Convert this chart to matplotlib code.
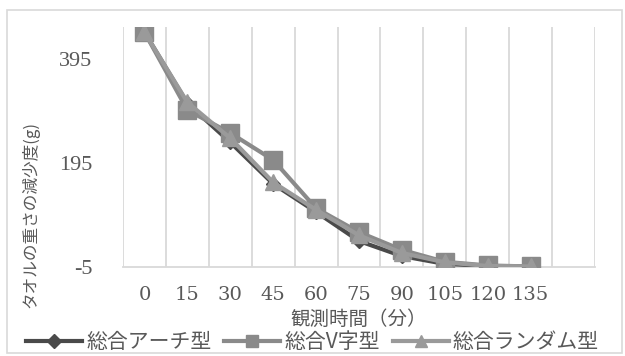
import matplotlib
matplotlib.use("Agg")
import matplotlib.pyplot as plt
from matplotlib.lines import Line2D
from matplotlib.patches import Rectangle

plt.rcParams['font.family'] = ['Noto Sans CJK JP', 'DejaVu Sans']
plt.rcParams['axes.unicode_minus'] = False

# 観測時間（分）
minutes = ['0', '15', '30', '45', '60', '75', '90', '105', '120', '135']
# タオルの重さの減少度 (g)
arch = [447, 310, 235, 155, 101, 45, 16, 1, -3, -4]
v_shape = [447, 297, 253, 201, 108, 62, 28, 5, -2, -4]
random_type = [447, 312, 243, 158, 105, 56, 22, 4, -3, -4]
series_names = ['総合アーチ型', '総合V字型', '総合ランダム型']

W, H = 625, 356
fig = plt.figure(figsize=(W / 100, H / 100), dpi=100)

# chart area border
fig.patches.append(Rectangle((7 / W, 3 / H), 615 / W, 343 / H, transform=fig.transFigure,
                             fill=False, edgecolor='#d9d9d9', linewidth=1.2))

ax = fig.add_axes([123 / W, (H - 267) / H, (595 - 123) / W, (267 - 27) / H])

x = list(range(len(minutes)))
text_col = '#595959'

ax.plot(x, arch, color='#4a4a4a', linewidth=3, marker='D', markersize=7, zorder=3)
ax.plot(x, v_shape, color='#8a8a8a', linewidth=3, marker='s', markersize=13, zorder=4)
ax.plot(x, random_type, color='#9a9a9a', linewidth=3, marker='^', markersize=12, zorder=5)

ax.set_xlim(-0.5, len(minutes) + 0.5)
ax.set_ylim(-5, 457)
ax.set_yticks([-5, 195, 395])
ax.set_xticks(x)
ax.set_xticklabels(minutes)

# vertical gridlines between categories
ax.set_xticks([i - 0.5 for i in range(len(minutes) + 2)], minor=True)
ax.grid(which='minor', axis='x', color='#d9d9d9', linewidth=1.3)
ax.grid(which='major', visible=False)

for side in ['top', 'right', 'left']:
    ax.spines[side].set_visible(False)
ax.spines['bottom'].set_color('#d9d9d9')
ax.spines['bottom'].set_linewidth(1.3)

ax.tick_params(which='both', length=0)
ax.tick_params(axis='x', pad=14, labelcolor=text_col)
ax.tick_params(axis='y', pad=22, labelcolor=text_col)
for lab in ax.get_xticklabels():
    lab.set_fontfamily('DejaVu Serif')
    lab.set_fontsize(14)
for lab in ax.get_yticklabels():
    lab.set_fontfamily('Liberation Serif')
    lab.set_fontsize(16)

fig.text(359 / W, 1 - 319 / H, '観測時間（分）', ha='center', va='center',
         fontsize=14, color=text_col)
fig.text(30 / W, 1 - 215 / H, 'タオルの重さの減少度(g)', ha='center', va='center',
         rotation=90, fontsize=12, color=text_col)

handles = [
    Line2D([], [], color='#4a4a4a', linewidth=3, marker='D', markersize=7),
    Line2D([], [], color='#8a8a8a', linewidth=3, marker='s', markersize=9),
    Line2D([], [], color='#9a9a9a', linewidth=3, marker='^', markersize=9),
]
leg = fig.legend(handles, series_names, loc='center', bbox_to_anchor=(0.5, 1 - 342 / H),
                 ncol=3, frameon=False, fontsize=15, handlelength=2.7,
                 handletextpad=0.2, columnspacing=0.6, borderaxespad=0)
for t in leg.get_texts():
    t.set_color(text_col)

fig.savefig('out.png', dpi=100)
plt.close(fig)
